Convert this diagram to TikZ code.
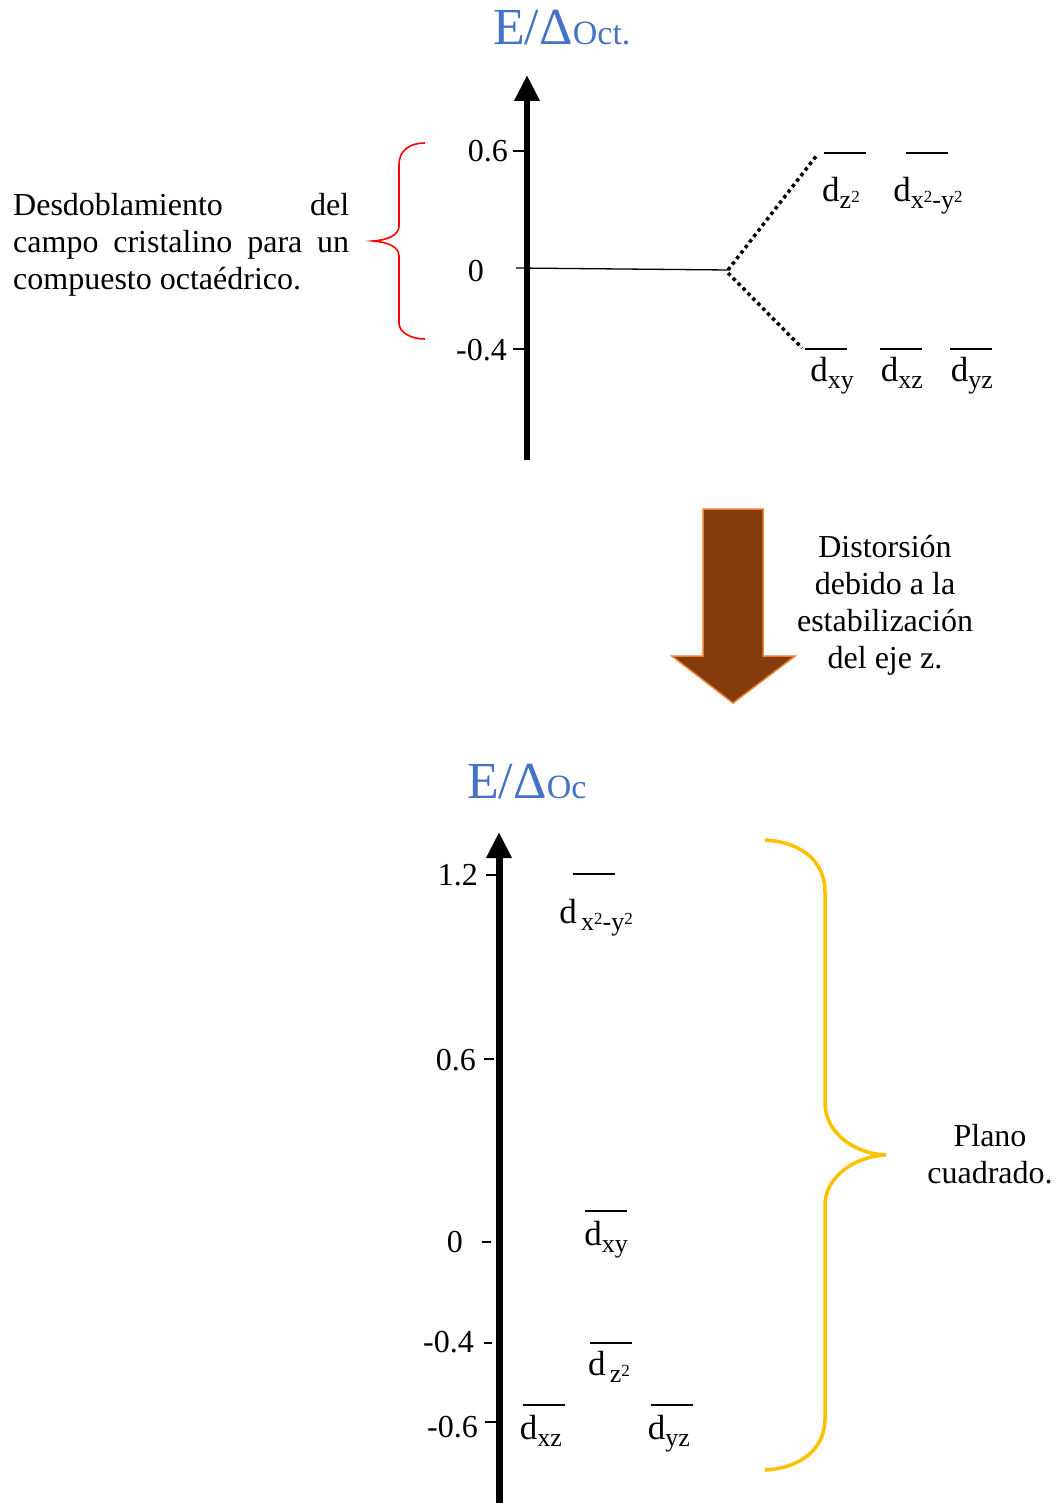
\documentclass[tikz,border=0pt]{standalone}
\usepackage{fontspec}
\setmainfont{Liberation Serif}
\usetikzlibrary{arrows.meta,positioning}
\definecolor{titleblue}{HTML}{4472C4}
\definecolor{arrowbrown}{HTML}{843C0C}
\definecolor{arroworange}{HTML}{ED7D31}
\definecolor{braceyellow}{HTML}{FFC000}
\newcommand{\orb}[1]{d\raisebox{-7pt}{\fontsize{26}{26}\selectfont #1}}
\newcommand{\sqtwo}{\raisebox{6pt}{\fontsize{17}{17}\selectfont 2}}
\tikzset{
  txt/.style={font=\fontsize{32}{37}\selectfont, inner sep=0pt},
  orbtxt/.style={font=\fontsize{35}{35}\selectfont, inner sep=0pt, anchor=base},
  title/.style={font=\fontsize{52}{52}\selectfont, text=titleblue, inner sep=0pt, anchor=base west},
  level/.style={line width=1.6pt},
  axis/.style={line width=6.5pt, -{Triangle[length=26pt,width=24pt]}},
  tick/.style={line width=1.3pt},
  split/.style={line width=3.5pt, dash pattern=on 3.5pt off 3.5pt},
}
\begin{document}
\begin{tikzpicture}[x=1pt,y=-1pt]
  \useasboundingbox (0,0) rectangle (1057,1503);
  % octahedral field
  \node[title] (titletop) at (493,45) {E/Δ{\fontsize{34}{34}\selectfont Oct.}};
  \draw[axis] (527,460) -- (527,75);
  \foreach \y in {151,349} \draw[tick] (513,\y) -- (527,\y);
  \node[txt, anchor=base east] (top06) at (508,162) {0.6};
  \node[txt, anchor=base east] (top0) at (484,282) {0};
  \node[txt, anchor=base east] (top04) at (507,360) {-0.4};
  \coordinate (zero) at (516,268);
  \coordinate (split) at (728,270);
  \coordinate (eg) at (817,155);
  \coordinate (tg) at (802,348);
  \draw[tick] (zero) -- (split);
  \draw[split] (split) -- (eg);
  \draw[split] ([yshift=-3pt]split) -- (tg);
  \foreach \xa in {824,906} \draw[level] (\xa,153) -- ++(42,0);
  \foreach \xa in {805,880,950} \draw[level] (\xa,349) -- ++(42,0);
  \node[orbtxt] (topz2) at (841,202) {\orb{z\sqtwo}};
  \node[orbtxt] (topx2y2) at (928,202) {\orb{x\sqtwo-y\sqtwo}};
  \node[orbtxt] (topxy) at (832,381) {\orb{xy}};
  \node[orbtxt] (topxz) at (902,381) {\orb{xz}};
  \node[orbtxt] (topyz) at (972,381) {\orb{yz}};
  % red brace and note
  \draw[red, line width=1.6pt] (425,143) .. controls (410,143) and (399,150) .. (399,165)
    -- (399,226) .. controls (399,235) and (388,240) .. (373,241)
    .. controls (388,242) and (399,247) .. (399,256)
    -- (399,323) .. controls (399,332) and (410,339) .. (425,339);
  \node[txt, text width=336pt, align=justify, anchor=base west] (note) at (13,216)
    {Desdoblamiento del\linebreak campo cristalino para un\linebreak compuesto octaédrico.};
  % distortion arrow
  \draw[arroworange, fill=arrowbrown, line width=1.5pt, line join=miter]
    (703,509) -- (763,509) -- (763,656) -- (795,656) -- (733,703)
    -- (672,656) -- (703,656) -- cycle;
  \node[txt, align=center, anchor=base] (distort) at (885,668)
    {Distorsión\\debido a la\\estabilización\\del eje z.};
  % square planar field
  \node[title] (titlebot) at (467,798) {E/Δ{\fontsize{34}{34}\selectfont Oc}};
  \draw[axis, line width=7pt] (499,1510) -- (499,832);
  \foreach \xa/\xb/\y in {486/499/875, 484/494/1059, 482/491/1242, 484/492/1343, 485/499/1422}
    \draw[tick] (\xa,\y) -- (\xb,\y);
  \node[txt, anchor=base east] (bot12) at (478,885) {1.2};
  \node[txt, anchor=base east] (bot06) at (476,1070) {0.6};
  \node[txt, anchor=base east] (bot0) at (463,1252) {0};
  \node[txt, anchor=base east] (bot04) at (474,1352) {-0.4};
  \node[txt, anchor=base east] (bot066) at (478,1437) {-0.6};
  \foreach \xa/\y in {573/874, 585/1211, 590/1343, 523/1405, 651/1405}
    \draw[level] (\xa,\y) -- ++(42,0);
  \node[orbtxt] (botx2y2) at (596,923) {\orb{\,x\sqtwo-y\sqtwo}};
  \node[orbtxt] (botxy) at (606,1245) {\orb{xy}};
  \node[orbtxt] (botz2) at (609,1375) {\orb{\,z\sqtwo}};
  \node[orbtxt] (botxz) at (541,1439) {\orb{xz}};
  \node[orbtxt] (botyz) at (669,1439) {\orb{yz}};
  % yellow brace
  \draw[braceyellow, line width=3.5pt] (765,840) .. controls (800,842) and (825,860) .. (825,892)
    -- (825,1103) .. controls (825,1133) and (855,1154) .. (886,1155)
    .. controls (855,1156) and (825,1177) .. (825,1205)
    -- (825,1418) .. controls (825,1450) and (800,1468) .. (765,1470);
  \node[txt, align=center, anchor=base] (plano) at (990,1183) {Plano\\cuadrado.};
\end{tikzpicture}
\end{document}
